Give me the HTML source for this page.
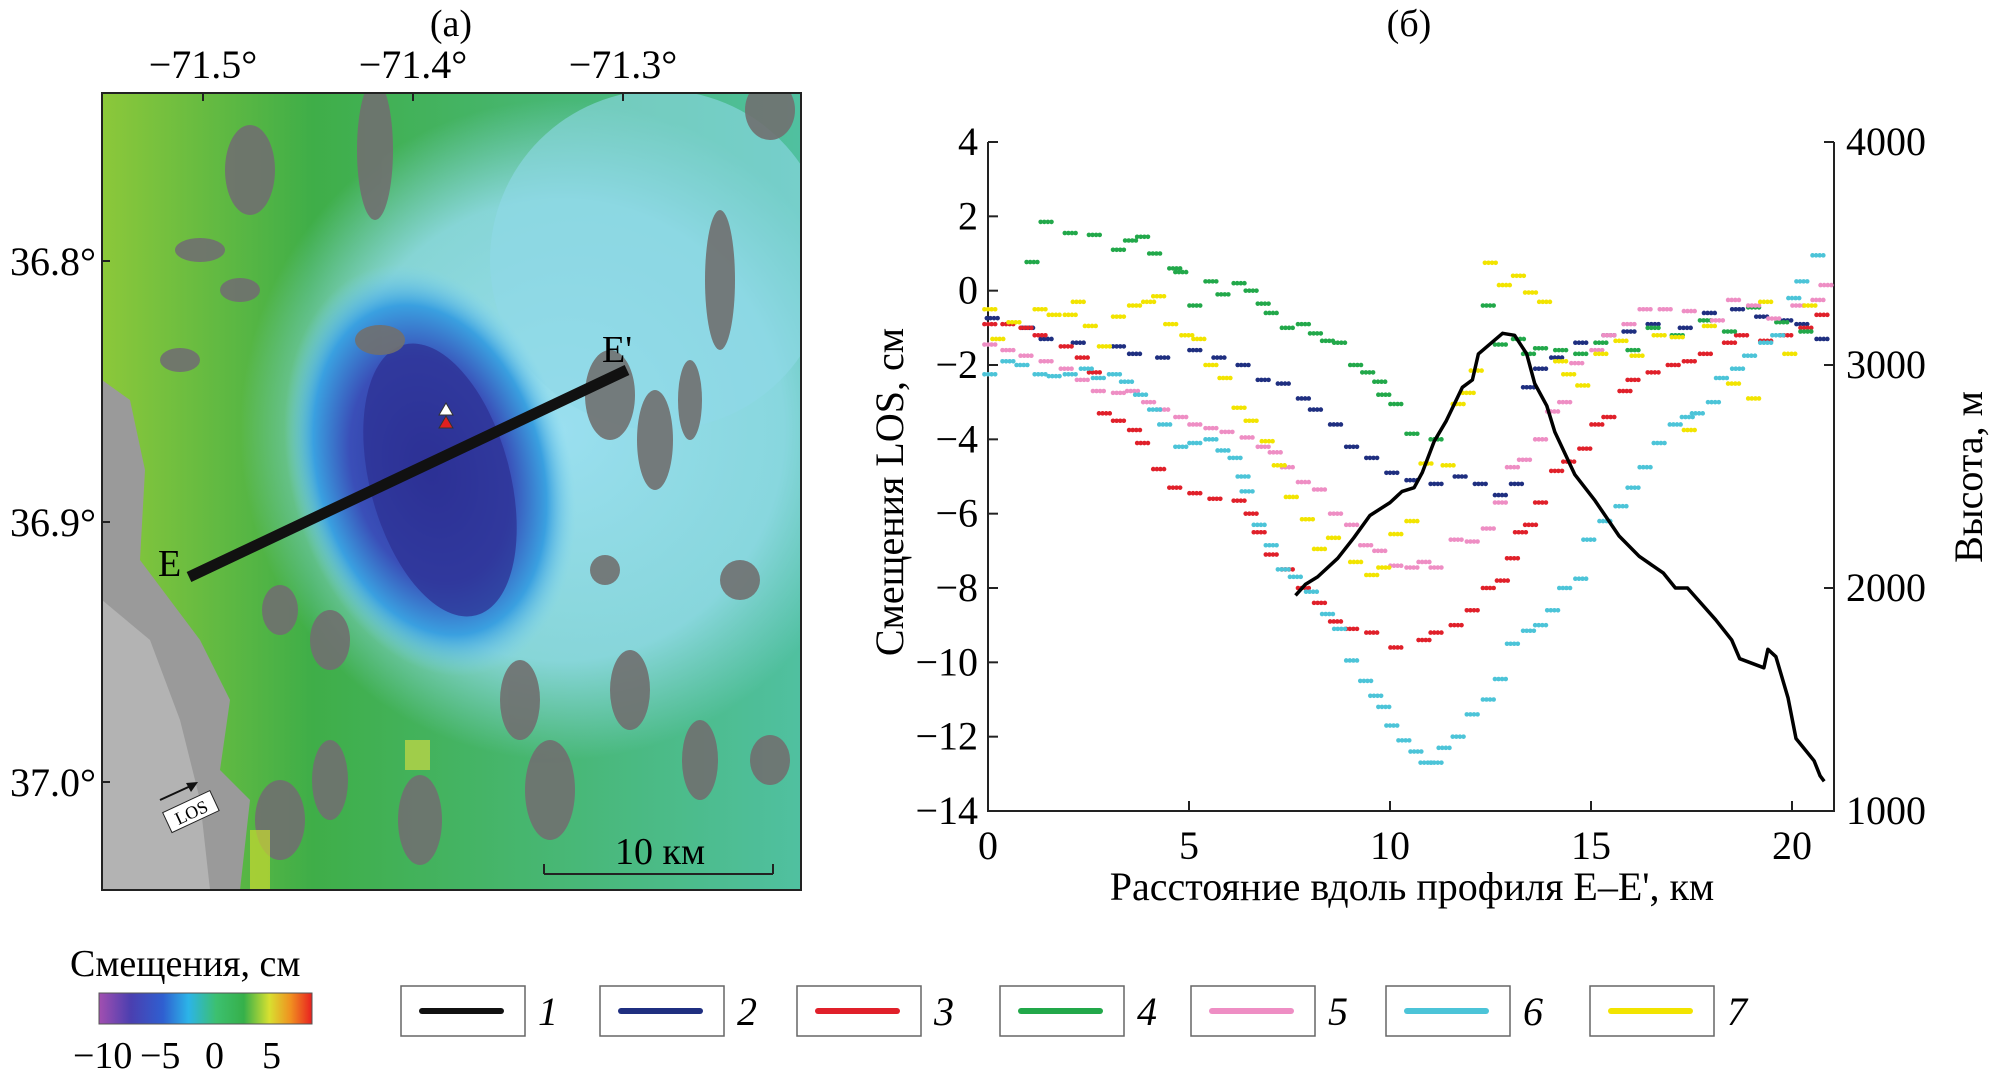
<!DOCTYPE html>
<html><head><meta charset="utf-8">
<style>
body{margin:0;background:#fff;}
svg text{font-family:"Liberation Serif",serif;}
</style></head>
<body>
<svg id="fig" width="1994" height="1079" viewBox="0 0 1994 1079" xmlns="http://www.w3.org/2000/svg">
<defs>
<radialGradient id="blueg" cx="0.5" cy="0.5" r="0.5">
<stop offset="0" stop-color="#2a2f96"/><stop offset="0.55" stop-color="#3a4fb8"/><stop offset="0.8" stop-color="#3aa0e0"/><stop offset="1" stop-color="#7fd4ee" stop-opacity="0"/>
</radialGradient>
<radialGradient id="cyang" cx="0.5" cy="0.5" r="0.5">
<stop offset="0" stop-color="#9adff0"/><stop offset="0.7" stop-color="#92dbea" stop-opacity="0.85"/><stop offset="1" stop-color="#8fd8e8" stop-opacity="0"/>
</radialGradient>
<linearGradient id="greeng" x1="0" y1="0" x2="1" y2="0">
<stop offset="0" stop-color="#8cc83a"/><stop offset="0.3" stop-color="#3fae48"/><stop offset="1" stop-color="#50c0a0"/>
</linearGradient>
<linearGradient id="cbar" x1="0" y1="0" x2="1" y2="0">
<stop offset="0" stop-color="#a24fb0"/><stop offset="0.15" stop-color="#4a3fb0"/><stop offset="0.3" stop-color="#2f5fd0"/><stop offset="0.42" stop-color="#2cb4e8"/><stop offset="0.55" stop-color="#3cc070"/><stop offset="0.68" stop-color="#36b04a"/><stop offset="0.8" stop-color="#d8e030"/><stop offset="0.9" stop-color="#f09020"/><stop offset="1" stop-color="#e82020"/>
</linearGradient>
<clipPath id="mapclip"><rect x="102" y="93" width="699" height="797"/></clipPath>
</defs>

<text x="451" y="36" font-size="38" text-anchor="middle">(а)</text>
<text x="1409" y="36" font-size="38" text-anchor="middle">(б)</text>

<g>
<g clip-path="url(#mapclip)">
<rect x="102" y="93" width="699" height="797" fill="url(#greeng)"/>
<ellipse cx="560" cy="430" rx="320" ry="330" fill="url(#cyang)"/>
<ellipse cx="660" cy="260" rx="170" ry="170" fill="#90d8e8" opacity="0.6"/>
<ellipse cx="430" cy="470" rx="140" ry="210" fill="url(#blueg)" transform="rotate(-15 430 470)"/>
<ellipse cx="440" cy="480" rx="70" ry="140" fill="#2d3294" opacity="0.75" transform="rotate(-15 440 480)"/>
<path d="M102 380 L130 400 L145 470 L140 560 L170 600 L200 640 L230 700 L220 770 L250 800 L240 890 L102 890 Z" fill="#9a9a9a"/>
<path d="M102 600 L150 640 L180 720 L200 800 L210 890 L102 890 Z" fill="#bdbdbd" opacity="0.7"/>
<g fill="#707070" opacity="0.9">
<ellipse cx="250" cy="170" rx="25" ry="45"/><ellipse cx="375" cy="150" rx="18" ry="70"/><ellipse cx="720" cy="280" rx="15" ry="70"/>
<ellipse cx="610" cy="395" rx="25" ry="45"/><ellipse cx="655" cy="440" rx="18" ry="50"/><ellipse cx="690" cy="400" rx="12" ry="40"/>
<ellipse cx="380" cy="340" rx="25" ry="15"/><ellipse cx="330" cy="640" rx="20" ry="30"/><ellipse cx="520" cy="700" rx="20" ry="40"/>
<ellipse cx="630" cy="690" rx="20" ry="40"/><ellipse cx="550" cy="790" rx="25" ry="50"/><ellipse cx="700" cy="760" rx="18" ry="40"/>
<ellipse cx="330" cy="780" rx="18" ry="40"/><ellipse cx="280" cy="820" rx="25" ry="40"/><ellipse cx="420" cy="820" rx="22" ry="45"/>
<ellipse cx="770" cy="760" rx="20" ry="25"/><ellipse cx="770" cy="110" rx="25" ry="30"/><ellipse cx="180" cy="360" rx="20" ry="12"/>
<ellipse cx="200" cy="250" rx="25" ry="12"/><ellipse cx="240" cy="290" rx="20" ry="12"/><ellipse cx="280" cy="610" rx="18" ry="25"/>
<ellipse cx="740" cy="580" rx="20" ry="20"/><ellipse cx="605" cy="570" rx="15" ry="15"/>
</g>
<rect x="405" y="740" width="25" height="30" fill="#e0e040" opacity="0.6"/>
<rect x="250" y="830" width="20" height="60" fill="#c8d830" opacity="0.7"/>
</g>
<rect x="102" y="93" width="699" height="797" fill="none" stroke="#222" stroke-width="2"/>
<line x1="189" y1="577" x2="627" y2="370" stroke="#111" stroke-width="11"/>
<polygon points="439,415 446,403 453,415" fill="#fff" stroke="#333" stroke-width="1"/>
<polygon points="439,428 446,416 453,428" fill="#e02020" stroke="#333" stroke-width="1"/>
<text x="158" y="576" font-size="38">E</text>
<text x="602" y="362" font-size="38">E'</text>
<line x1="544" y1="864" x2="544" y2="874" stroke="#222" stroke-width="2"/>
<line x1="773" y1="864" x2="773" y2="874" stroke="#222" stroke-width="2"/>
<line x1="544" y1="874" x2="773" y2="874" stroke="#222" stroke-width="2"/>
<text x="660" y="864" font-size="38" text-anchor="middle">10 км</text>
<line x1="160" y1="800" x2="195" y2="784" stroke="#111" stroke-width="2"/>
<polygon points="198,782 186,783 191,792" fill="#111"/>
<g transform="rotate(-25 190 812)"><rect x="165" y="801" width="52" height="22" fill="#fff" stroke="#222"/><text x="191" y="819" font-size="18" text-anchor="middle">LOS</text></g>
<g font-size="40" text-anchor="middle">
<text x="203" y="78">−71.5°</text>
<text x="413" y="78">−71.4°</text>
<text x="623" y="78">−71.3°</text>
</g>
<g font-size="40" text-anchor="end">
<text x="96" y="275">36.8°</text>
<text x="96" y="536">36.9°</text>
<text x="96" y="796">37.0°</text>
</g>
<g stroke="#222" stroke-width="2">
<line x1="203" y1="93" x2="203" y2="101"/><line x1="413" y1="93" x2="413" y2="101"/><line x1="623" y1="93" x2="623" y2="101"/>
<line x1="102" y1="261" x2="110" y2="261"/><line x1="102" y1="522" x2="110" y2="522"/><line x1="102" y1="782" x2="110" y2="782"/>
</g>
</g>

<g id="chart"></g>

<g>
<text x="70" y="976" font-size="38">Смещения, см</text>
<rect x="99" y="993" width="213" height="31" fill="url(#cbar)" stroke="#555" stroke-width="1"/>
<text x="73" y="1068" font-size="38">−10</text>
<text x="140" y="1068" font-size="38">−5</text>
<text x="205" y="1068" font-size="38">0</text>
<text x="262" y="1068" font-size="38">5</text>
</g>

<g id="legend"></g>

<script>
const NS='http://www.w3.org/2000/svg';
const xTicks=[0,5,10,15,20];
const yTicks=[4,2,0,-2,-4,-6,-8,-10,-12,-14];
const y2Ticks=[4000,3000,2000,1000];
const seriesNames=['1','2','3','4','5','6','7'];
const seriesColors=['#111111','#1f2f80','#e0202a','#22a84a','#ee8ec4','#4cc4d8','#f2e400'];

const elevKm=[7.65,7.9,8.2,8.7,9.1,9.5,10.0,10.3,10.6,10.8,11.1,11.4,11.8,12.05,12.2,12.8,13.1,13.4,13.6,13.9,14.1,14.6,15.1,15.7,16.2,16.8,17.1,17.4,18.1,18.5,18.7,19.3,19.4,19.6,19.9,20.1,20.55,20.7,20.8];
const elevM=[1967,2017,2050,2133,2225,2325,2383,2433,2450,2517,2658,2750,2900,2933,3050,3142,3133,3050,2917,2817,2700,2508,2392,2233,2142,2067,2000,2000,1858,1767,1683,1642,1725,1692,1508,1325,1225,1158,1133];

const s2Km=[0.06,0.94,1.4,2.2,3.2,3.6,4.3,5.1,5.7,6.3,6.8,7.3,7.8,8.1,8.6,9.0,9.5,10,10.5,11.1,11.7,12.2,12.7,13.1,13.4,13.7,14.1,14.7,15.4,15.9,16.5,17.3,17.9,18.6,19.2,19.8,20.2,20.7];
const s2Cm=[-0.74,-1.0,-1.3,-1.4,-1.5,-1.7,-1.8,-1.6,-1.8,-2.0,-2.4,-2.5,-2.9,-3.2,-3.6,-4.2,-4.5,-4.9,-5.1,-5.2,-5.0,-5.2,-5.5,-5.2,-2.6,-2.1,-1.8,-1.4,-1.2,-1.1,-0.9,-1.0,-0.6,-0.5,-0.7,-0.8,-0.9,-1.3];

const s3Km=[0,0.45,0.9,1.25,1.9,2.3,2.6,2.85,3.2,3.6,3.8,4.2,4.6,5.1,5.6,6.2,6.5,6.7,7.0,7.4,7.8,8.2,8.6,9.0,9.5,10.1,10.8,11.1,11.6,12.0,12.4,12.75,13.0,13.2,13.45,13.7,14.1,14.4,14.8,15.1,15.4,15.8,16.0,16.5,17.0,17.4,17.8,18.4,18.7,19.3,19.8,20.3,20.7];
const s3Cm=[-0.9,-0.9,-1.0,-1.2,-1.5,-1.8,-2.2,-3.3,-3.5,-3.75,-4.1,-4.8,-5.3,-5.45,-5.6,-5.65,-6.0,-6.5,-7.1,-7.5,-8.0,-8.4,-8.9,-9.1,-9.2,-9.6,-9.4,-9.2,-9.0,-8.6,-8.0,-7.8,-7.2,-6.5,-6.3,-5.7,-4.85,-4.6,-4.25,-3.6,-3.4,-2.7,-2.4,-2.2,-2.0,-1.9,-1.7,-1.4,-1.2,-1.35,-1.2,-1.0,-0.65];

const s4Km=[1.05,1.4,2.0,2.6,3.2,3.5,3.8,4.1,4.6,4.75,5.1,5.5,5.8,6.2,6.5,6.8,7.0,7.4,7.8,8.1,8.4,8.7,9.1,9.4,9.7,9.8,10.1,10.5,11.1,12.4,12.7,13.15,13.4,13.7,14.2,14.7,15.2,16.0,16.5,17.1,17.8,18.4,19.0,19.7,20.3];
const s4Cm=[0.77,1.85,1.55,1.5,1.1,1.35,1.45,1.0,0.6,0.5,-0.4,0.25,-0.1,0.2,0.0,-0.35,-0.6,-1.0,-0.9,-1.15,-1.35,-1.4,-2.0,-2.2,-2.45,-2.8,-3.05,-3.85,-4.0,-0.4,-1.45,-1.3,-1.7,-1.55,-1.6,-1.7,-1.4,-1.6,-1.0,-1.2,-0.8,-1.1,-0.45,-0.85,-1.1];

const s5Km=[0,0.45,0.9,1.4,1.9,2.3,2.7,3.2,3.55,3.95,4.3,4.75,5.1,5.5,5.9,6.4,6.8,7.1,7.4,7.8,8.2,8.6,9.0,9.35,9.7,10.1,10.5,10.8,11.1,11.6,12.0,12.4,12.7,13.0,13.3,13.7,14.0,14.3,14.6,15.1,15.4,15.9,16.3,16.8,17.4,18.1,18.5,19.0,19.5,20.1,20.6,20.8];
const s5Cm=[-1.45,-1.6,-1.75,-1.9,-2.1,-2.4,-2.7,-2.75,-2.7,-3.0,-3.2,-3.4,-3.6,-3.7,-3.8,-3.95,-4.2,-4.35,-4.75,-5.15,-5.35,-6.0,-6.3,-6.85,-7.0,-7.4,-7.45,-7.3,-7.45,-6.7,-6.75,-6.4,-5.7,-4.75,-4.55,-4.0,-3.25,-3.0,-1.95,-1.6,-1.2,-0.9,-0.5,-0.5,-0.55,-0.8,-0.25,-0.4,-0.75,-0.4,-0.25,0.15];

const s6Km=[0,0.45,0.8,1.25,1.6,2.0,2.4,2.7,3.1,3.4,3.75,4.1,4.35,4.75,5.1,5.5,5.8,6.1,6.3,6.4,6.7,7.0,7.3,7.6,8.0,8.4,8.7,9.0,9.35,9.6,9.8,10.0,10.3,10.6,10.85,11.1,11.3,11.65,12.0,12.4,12.7,13.0,13.4,13.7,14.0,14.3,14.7,14.9,15.3,15.7,16.0,16.3,16.65,17.05,17.35,17.6,18.0,18.2,18.6,18.9,19.3,19.6,20.0,20.2,20.6];
const s6Cm=[-2.25,-1.9,-2.0,-2.25,-2.3,-2.25,-2.1,-2.35,-2.25,-2.45,-2.8,-3.2,-3.6,-4.2,-4.1,-4.0,-4.3,-4.5,-5.0,-5.4,-6.3,-6.85,-7.5,-7.7,-8.1,-8.7,-9.1,-9.95,-10.5,-10.9,-11.2,-11.7,-12.1,-12.4,-12.7,-12.7,-12.3,-12.0,-11.4,-11.0,-10.45,-9.5,-9.15,-9.0,-8.6,-8.0,-7.75,-6.7,-6.2,-5.8,-5.3,-4.75,-4.1,-3.6,-3.4,-3.3,-3.0,-2.35,-2.1,-1.75,-1.4,-1.2,-0.2,0.25,0.95];

const s7Km=[0,0.2,0.6,1.25,1.6,2.0,2.2,2.5,2.85,3.2,3.6,3.95,4.2,4.5,4.9,5.2,5.5,5.85,6.2,6.5,6.9,7.2,7.5,7.9,8.2,8.55,9.1,9.5,9.8,10.1,10.5,10.85,11.4,11.65,11.9,12.1,12.45,12.8,13.15,13.45,13.8,14.2,14.4,14.75,15.2,15.7,16.1,16.65,17.1,17.4,17.9,18.5,19.0,19.3,19.9,20.4];
const s7Cm=[-0.5,-1.3,-0.85,-0.5,-0.65,-0.65,-0.3,-0.95,-1.5,-0.7,-0.4,-0.3,-0.15,-0.9,-1.2,-1.3,-2.0,-2.35,-3.15,-3.5,-4.05,-4.7,-5.55,-6.15,-6.95,-6.65,-7.3,-7.65,-7.45,-6.55,-6.2,-4.65,-4.7,-3.05,-2.75,-2.15,0.75,0.15,0.4,-0.05,-0.3,-1.9,-2.25,-2.55,-1.7,-1.35,-1.75,-1.2,-1.25,-3.75,-0.95,-2.5,-2.9,-0.3,-1.7,-0.4];

const X0=988, PXKM=40.2, Y0=142, Y1=811, XR=1834;
function xs(v){return X0+v*PXKM;}
function ys(v){return Y0+(4-v)/18*(Y1-Y0);}
function ys2(m){return Y0+(4000-m)/3000*(Y1-Y0);}
function mk(tag,attrs,parent){const e=document.createElementNS(NS,tag);for(const k in attrs)e.setAttribute(k,attrs[k]);parent.appendChild(e);return e;}

const chart=document.getElementById('chart');
const ax=mk('path',{d:`M${X0} ${Y0} V${Y1} H${XR} V${Y0}`,fill:'none',stroke:'#222','stroke-width':2},chart);


xTicks.forEach(t=>{
  mk('line',{x1:xs(t),x2:xs(t),y1:Y1,y2:Y1-10,stroke:'#222','stroke-width':2},chart);
  const tx=mk('text',{x:xs(t),y:Y1+48,'font-size':40,'text-anchor':'middle'},chart);
  tx.textContent=t;
  
  
});
yTicks.forEach(t=>{
  mk('line',{x1:X0,x2:X0+10,y1:ys(t),y2:ys(t),stroke:'#222','stroke-width':2},chart);
  const tx=mk('text',{x:X0-10,y:ys(t)+13,'font-size':40,'text-anchor':'end'},chart);
  tx.textContent=(t<0?'−'+(-t):t);
  
  
});
y2Ticks.forEach(t=>{
  mk('line',{x1:XR,x2:XR-10,y1:ys2(t),y2:ys2(t),stroke:'#222','stroke-width':2},chart);
  const tx=mk('text',{x:XR+12,y:ys2(t)+13,'font-size':40,'text-anchor':'start'},chart);
  tx.textContent=t;
  
  
});
const xt=mk('text',{x:1412,y:900,'font-size':40,'text-anchor':'middle'},chart);
xt.textContent="Расстояние вдоль профиля E–E', км";


const yt=mk('text',{x:0,y:0,'font-size':40,'text-anchor':'middle',transform:'translate(903 492) rotate(-90)'},chart);
yt.textContent="Смещения LOS, см";


const y2t=mk('text',{x:0,y:0,'font-size':40,'text-anchor':'middle',transform:'translate(1982 477) rotate(-90)'},chart);
y2t.textContent="Высота, м";



const dotSeries=[[s2Km,s2Cm],[s3Km,s3Cm],[s4Km,s4Cm],[s5Km,s5Cm],[s6Km,s6Cm],[s7Km,s7Cm]];
dotSeries.forEach((s,i)=>{
  const g=mk('g',{fill:seriesColors[i+1]},chart);
  
  
  s[0].forEach((k,j)=>{
    const cx=xs(k), cy=ys(s[1][j]);
    for(let d=-1;d<=2;d++){
      mk('circle',{cx:cx+d*3.6,cy:cy,r:2.3},g);
    }
  });
});
let d='';
elevKm.forEach((k,j)=>{d+=(j?'L':'M')+xs(k).toFixed(1)+' '+ys2(elevM[j]).toFixed(1);});
const el=mk('path',{d:d,fill:'none',stroke:'#000','stroke-width':3.5,'stroke-linejoin':'round'},chart);



const leg=document.getElementById('legend');
const boxX=[401,600,797,1000,1191,1386,1590];
seriesNames.forEach((n,i)=>{
  const g=mk('g',{},leg);
  
  
  mk('rect',{x:boxX[i],y:986,width:124,height:50,fill:'#fff',stroke:'#666','stroke-width':1.5},g);
  mk('line',{x1:boxX[i]+21,x2:boxX[i]+100,y1:1011,y2:1011,stroke:seriesColors[i],'stroke-width':6,'stroke-linecap':'round'},g);
  const t=mk('text',{x:boxX[i]+137,y:1025,'font-size':40,'font-style':'italic'},g);
  t.textContent=n;
});
</script>
</svg>
</body></html>
